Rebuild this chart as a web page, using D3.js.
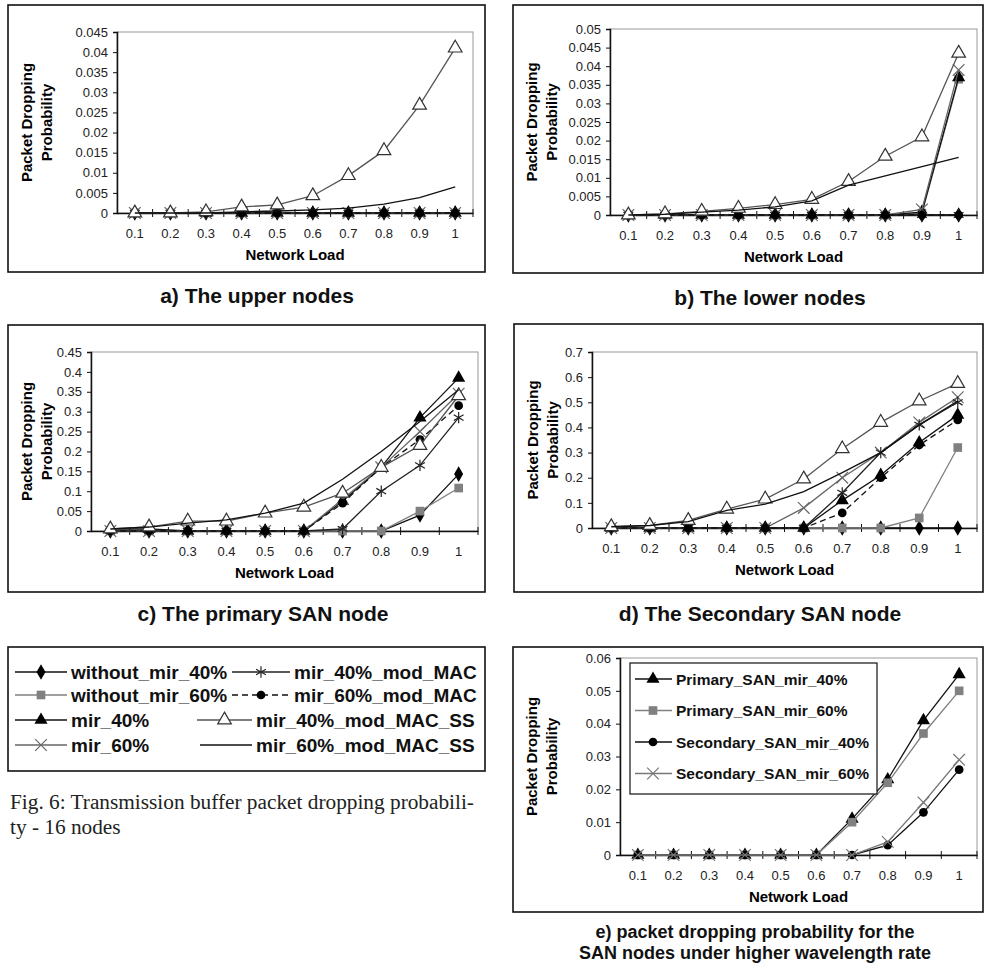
<!DOCTYPE html>
<html>
<head>
<meta charset="utf-8">
<script src="https://cdn.jsdelivr.net/npm/d3@7"></script>
<style>
  body { margin: 0; background: #fff; }
  text { font-family: Arial, "Liberation Sans", sans-serif; }
  text.caption { font-family: "Liberation Serif", "Times New Roman", serif; }
</style>
</head>
<body>
<svg id="fig" width="985" height="966"></svg>
<script>
// Network load (x axis categories)
const LOADS = ['0.1', '0.2', '0.3', '0.4', '0.5', '0.6', '0.7', '0.8', '0.9', '1'];

// Series shown in panels a) to d)
const SERIES = ['without_mir_40%', 'without_mir_60%', 'mir_40%', 'mir_60%',
                'mir_40%_mod_MAC', 'mir_60%_mod_MAC', 'mir_40%_mod_MAC_SS', 'mir_60%_mod_MAC_SS'];

// a) The upper nodes - one row per series, same order as SERIES
const UPPER = [
    [0, 0, 0, 0, 0, 0, 0, 0, 0, 0],
    [0, 0, 0, 0, 0, 0, 0, 0, 0, 0],
    [0, 0, 0, 0, 0, 0, 0, 0, 0, 0],
    [0, 0, 0, 0, 0, 0, 0, 0, 0, 0],
    [0, 0, 0, 0, 0, 0, 0, 0, 0, 0],
    [0, 0, 0, 0, 0, 0, 0, 0, 0, 0],
    [0, 0, 0.0003, 0.0015, 0.002, 0.0043, 0.0093, 0.0155, 0.0268, 0.041],
    [0, 0, 0, 0.0003, 0.0005, 0.0008, 0.0012, 0.0022, 0.0038, 0.0065]
];

// b) The lower nodes
const LOWER = [
    [0, 0, 0, 0, 0, 0, 0, 0, 0, 0],
    [0, 0, 0, 0, 0, 0, 0, 0, 0.0005, 0.0365],
    [0, 0, 0, 0, 0, 0, 0, 0, 0.0008, 0.037],
    [0, 0, 0, 0, 0, 0, 0, 0, 0.0015, 0.039],
    [0, 0, 0, 0, 0, 0, 0, 0, 0, 0],
    [0, 0, 0, 0, 0, 0, 0, 0, 0, 0],
    [0, 0.0003, 0.001, 0.0018, 0.0028, 0.0042, 0.009, 0.0158, 0.021, 0.0435],
    [0, 0.0002, 0.0008, 0.0013, 0.0022, 0.0038, 0.008, 0.0105, 0.013, 0.0155]
];

// c) The primary SAN node
const PRIMARY = [
    [0, 0, 0, 0, 0, 0, 0, 0, 0.04, 0.143],
    [0, 0, 0, 0, 0, 0, 0, 0, 0.05, 0.108],
    [0.005, 0.005, 0, 0, 0, 0, 0.075, 0.16, 0.285, 0.385],
    [0, 0, 0, 0, 0, 0, 0.08, 0.16, 0.25, 0.345],
    [0, 0, 0, 0, 0, 0, 0.005, 0.1, 0.165, 0.285],
    [0, 0, 0, 0, 0, 0, 0.07, 0.16, 0.23, 0.315],
    [0.005, 0.01, 0.025, 0.025, 0.045, 0.06, 0.095, 0.16, 0.215, 0.34],
    [0.005, 0.01, 0.02, 0.028, 0.045, 0.07, 0.13, 0.2, 0.275, 0.355]
];

// d) The Secondary SAN node
const SECONDARY = [
    [0, 0, 0, 0, 0, 0, 0, 0, 0, 0],
    [0, 0, 0, 0, 0, 0, 0, 0, 0.04, 0.32],
    [0, 0, 0, 0, 0, 0, 0.11, 0.21, 0.34, 0.45],
    [0, 0, 0, 0, 0, 0.08, 0.2, 0.3, 0.42, 0.52],
    [0, 0, 0, 0, 0, 0, 0.14, 0.3, 0.41, 0.5],
    [0, 0, 0, 0, 0, 0, 0.06, 0.2, 0.33, 0.43],
    [0.005, 0.01, 0.03, 0.075, 0.115, 0.195, 0.315, 0.42, 0.505, 0.575],
    [0.005, 0.01, 0.025, 0.07, 0.095, 0.145, 0.22, 0.3, 0.41, 0.505]
];

// e) SAN nodes under higher wavelength rate
const SAN_SERIES = ['Primary_SAN_mir_40%', 'Primary_SAN_mir_60%',
                    'Secondary_SAN_mir_40%', 'Secondary_SAN_mir_60%'];
const SAN_RATE = [
    [0, 0, 0, 0, 0, 0, 0.011, 0.023, 0.041, 0.055],
    [0, 0, 0, 0, 0, 0, 0.01, 0.022, 0.037, 0.05],
    [0, 0, 0, 0, 0, 0, 0, 0.003, 0.013, 0.026],
    [0, 0, 0, 0, 0, 0, 0, 0.004, 0.016, 0.029]
];

// Line + marker look of each series
const STYLE = {
    'without_mir_40%':       {line: '#111', dash: null, sym: d3.symbolDiamond, size: 70, fill: '#000', stroke: 'none'},
    'without_mir_60%':       {line: '#808080', dash: null, sym: d3.symbolSquare, size: 75, fill: '#808080', stroke: 'none'},
    'mir_40%':               {line: '#111', dash: null, sym: d3.symbolTriangle, size: 75, fill: '#000', stroke: 'none'},
    'mir_60%':               {line: '#666', dash: null, sym: d3.symbolTimes, size: 90, fill: 'none', stroke: '#666'},
    'mir_40%_mod_MAC':       {line: '#222', dash: null, sym: d3.symbolAsterisk, size: 90, fill: 'none', stroke: '#222'},
    'mir_60%_mod_MAC':       {line: '#111', dash: '6,4', sym: d3.symbolCircle, size: 60, fill: '#000', stroke: 'none'},
    'mir_40%_mod_MAC_SS':    {line: '#555', dash: null, sym: d3.symbolTriangle, size: 80, fill: '#fff', stroke: '#333'},
    'mir_60%_mod_MAC_SS':    {line: '#111', dash: null, sym: null},
    'Primary_SAN_mir_40%':   {line: '#111', dash: null, sym: d3.symbolTriangle, size: 75, fill: '#000', stroke: 'none'},
    'Primary_SAN_mir_60%':   {line: '#808080', dash: null, sym: d3.symbolSquare, size: 75, fill: '#808080', stroke: 'none'},
    'Secondary_SAN_mir_40%': {line: '#111', dash: null, sym: d3.symbolCircle, size: 60, fill: '#000', stroke: 'none'},
    'Secondary_SAN_mir_60%': {line: '#777', dash: null, sym: d3.symbolTimes, size: 90, fill: 'none', stroke: '#777'}
};

const svg = d3.select('#fig');
svg.append('rect').attr('width', 985).attr('height', 966).attr('fill', '#fff');

function drawMarker(g, name, cx, cy) {
    const st = STYLE[name];
    if (!st.sym) return;
    g.append('path')
        .attr('d', d3.symbol(st.sym, st.size)())
        .attr('transform', `translate(${cx},${cy})`)
        .attr('fill', st.fill)
        .attr('stroke', st.stroke)
        .attr('stroke-width', 1.2);
}

function drawPanel(cfg, names, rows) {
    const g = svg.append('g');

    // chart border
    g.append('rect')
        .attr('x', cfg.box[0]).attr('y', cfg.box[1])
        .attr('width', cfg.box[2]).attr('height', cfg.box[3])
        .attr('fill', '#fff').attr('stroke', '#111').attr('stroke-width', 1.6);

    const x = d3.scaleBand().domain(LOADS).range([cfg.l, cfg.r]);
    const y = d3.scaleLinear().domain([0, cfg.ymax]).range([cfg.b, cfg.t]);
    const cx = d => x(d) + x.bandwidth() / 2;

    // plot area frame
    g.append('rect')
        .attr('x', cfg.l).attr('y', cfg.t)
        .attr('width', cfg.r - cfg.l).attr('height', cfg.b - cfg.t)
        .attr('fill', 'none').attr('stroke', '#999').attr('stroke-width', 1);

    // y axis
    const yTicks = d3.range(0, cfg.ymax + cfg.step / 2, cfg.step);
    const yAxis = g.append('g')
        .attr('transform', `translate(${cfg.l},0)`)
        .call(d3.axisLeft(y).tickValues(yTicks).tickSize(4).tickPadding(5)
            .tickFormat(d => String(+d.toFixed(4))));
    yAxis.select('.domain').attr('stroke', '#111').attr('stroke-width', 1.5);
    yAxis.selectAll('line').attr('stroke', '#111');
    yAxis.selectAll('text').attr('font-size', 13).attr('fill', '#222');

    // x axis with cross ticks between categories
    const xAxis = g.append('g')
        .attr('transform', `translate(0,${cfg.b})`)
        .call(d3.axisBottom(x).tickSize(0).tickPadding(16));
    xAxis.select('.domain').attr('stroke', '#111').attr('stroke-width', 1.5);
    xAxis.selectAll('text').attr('font-size', 13).attr('fill', '#222');
    xAxis.selectAll('line.cross')
        .data(LOADS.slice(1).concat(['end']))
        .enter().append('line')
        .attr('class', 'cross')
        .attr('x1', d => d === 'end' ? cfg.r : x(d))
        .attr('x2', d => d === 'end' ? cfg.r : x(d))
        .attr('y1', -4).attr('y2', 4)
        .attr('stroke', '#111');

    // axis titles
    g.append('text')
        .attr('x', (cfg.l + cfg.r) / 2).attr('y', cfg.b + 47)
        .attr('text-anchor', 'middle').attr('font-size', 15).attr('font-weight', 'bold')
        .text('Network Load');
    const my = (cfg.t + cfg.b) / 2;
    ['Packet Dropping', 'Probability'].forEach((s, i) => {
        const lx = cfg.box[0] + 24 + i * 20;
        g.append('text')
            .attr('transform', `translate(${lx},${my}) rotate(-90)`)
            .attr('text-anchor', 'middle').attr('font-size', 15).attr('font-weight', 'bold')
            .text(s);
    });

    // series lines then markers
    const line = d3.line().x((d, i) => cx(LOADS[i])).y(d => y(d));
    names.forEach((name, k) => {
        const st = STYLE[name];
        g.append('path')
            .datum(rows[k])
            .attr('d', line)
            .attr('fill', 'none')
            .attr('stroke', st.line)
            .attr('stroke-width', 1.3)
            .attr('stroke-dasharray', st.dash);
        rows[k].forEach((v, i) => drawMarker(g, name, cx(LOADS[i]), y(v)));
    });

    // panel caption
    cfg.title.forEach((s, i) => {
        svg.append('text')
            .attr('x', cfg.tx).attr('y', cfg.ty + i * 21)
            .attr('text-anchor', 'middle')
            .attr('font-size', cfg.tsize).attr('font-weight', 'bold')
            .attr('fill', '#111')
            .text(s);
    });
    return g;
}

drawPanel({box: [8, 5, 477, 267], l: 117, r: 473, t: 32, b: 213, ymax: 0.045, step: 0.005,
           title: ['a) The upper nodes'], tx: 257, ty: 303, tsize: 21}, SERIES, UPPER);
drawPanel({box: [513, 5, 470, 268], l: 610, r: 977, t: 29, b: 215, ymax: 0.05, step: 0.005,
           title: ['b) The lower nodes'], tx: 770, ty: 305, tsize: 21}, SERIES, LOWER);
drawPanel({box: [8, 325, 477, 267], l: 91, r: 478, t: 352, b: 531, ymax: 0.45, step: 0.05,
           title: ['c) The primary SAN node'], tx: 263, ty: 621, tsize: 21}, SERIES, PRIMARY);
drawPanel({box: [514, 324, 469, 268], l: 592, r: 977, t: 352, b: 528, ymax: 0.7, step: 0.1,
           title: ['d) The Secondary SAN node'], tx: 760, ty: 621, tsize: 21}, SERIES, SECONDARY);
const ge = drawPanel({box: [513, 647, 470, 265], l: 620, r: 977, t: 658, b: 855, ymax: 0.06, step: 0.01,
           title: ['e) packet dropping probability for the', 'SAN nodes under higher wavelength rate'],
           tx: 755, ty: 938, tsize: 18}, SAN_SERIES, SAN_RATE);

// legend inside panel e
ge.append('rect').attr('x', 630).attr('y', 663).attr('width', 247).attr('height', 131)
    .attr('fill', '#fff').attr('stroke', '#111').attr('stroke-width', 1.2);
SAN_SERIES.forEach((name, i) => {
    const ly = 679 + i * 31.5;
    ge.append('line').attr('x1', 635).attr('x2', 672).attr('y1', ly).attr('y2', ly)
        .attr('stroke', STYLE[name].line).attr('stroke-width', 1.3);
    drawMarker(ge, name, 653, ly);
    ge.append('text').attr('x', 676).attr('y', ly + 5.5)
        .attr('font-size', 15.5).attr('font-weight', 'bold').attr('fill', '#111')
        .text(name);
});

// shared legend for panels a) to d)
const gl = svg.append('g');
gl.append('rect').attr('x', 8).attr('y', 647).attr('width', 477).attr('height', 124)
    .attr('fill', '#fff').attr('stroke', '#111').attr('stroke-width', 1.6);
const legendPos = [
    [15, 67, 672], [15, 67, 695], [15, 67, 720], [15, 67, 745],
    [232, 290, 672], [232, 290, 695], [197, 252, 720], [200, 252, 745]
];
// column order: first column holds SERIES 0..3, second column 4..7
SERIES.forEach((name, i) => {
    const [x1, x2, ly] = legendPos[i];
    const st = STYLE[name];
    gl.append('line').attr('x1', x1).attr('x2', x2).attr('y1', ly).attr('y2', ly)
        .attr('stroke', st.line).attr('stroke-width', 1.5).attr('stroke-dasharray', st.dash);
    drawMarker(gl, name, (x1 + x2) / 2, ly);
    gl.append('text').attr('x', x2 + 4).attr('y', ly + 6.5)
        .attr('font-size', 19).attr('font-weight', 'bold').attr('fill', '#111')
        .text(name);
});

// figure caption
const cap = ['Fig. 6: Transmission buffer packet dropping probabili-', 'ty - 16 nodes'];
cap.forEach((s, i) => {
    svg.append('text').attr('class', 'caption')
        .attr('x', 10).attr('y', 809 + i * 25)
        .attr('font-size', 21.3).attr('fill', '#222')
        .text(s);
});
</script>
</body>
</html>
